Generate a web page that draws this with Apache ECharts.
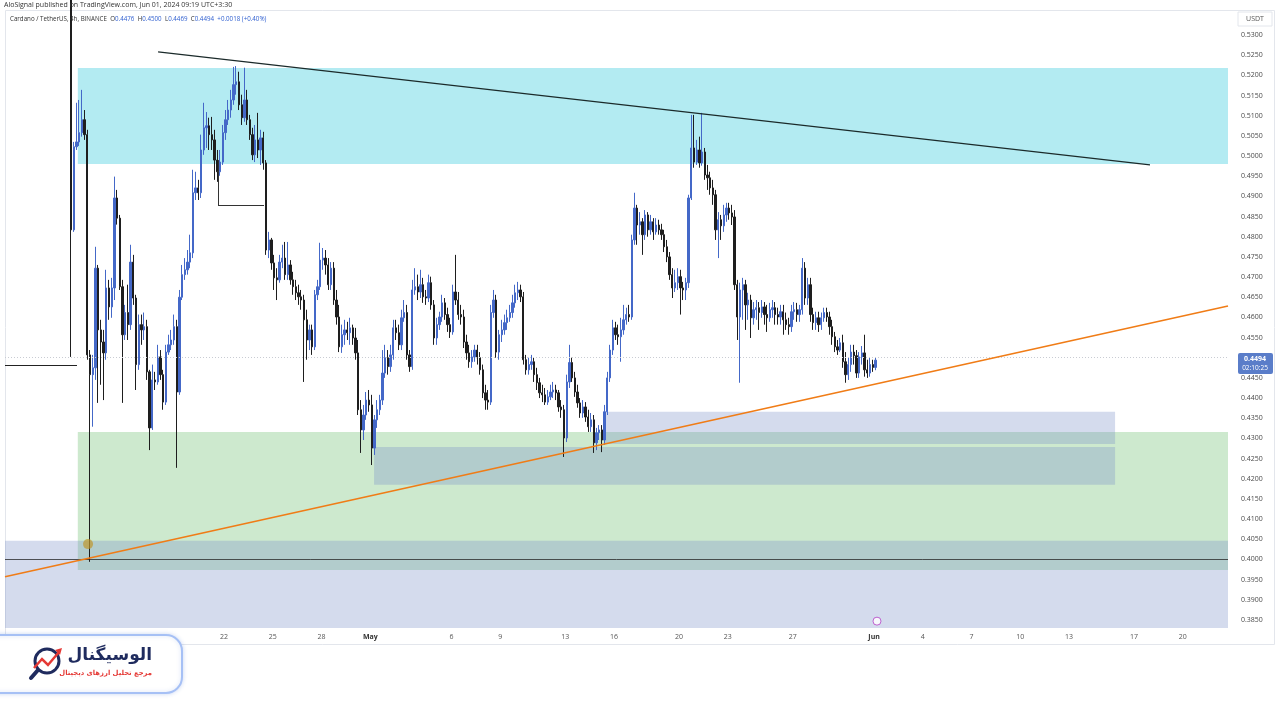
<!DOCTYPE html>
<html>
<head>
<meta charset="utf-8">
<title>Cardano / TetherUS 4h</title>
<script src="https://cdn.jsdelivr.net/npm/echarts@6/dist/echarts.min.js"></script>
<style>
  html, body { margin: 0; padding: 0; background: #fff; }
  #chart { width: 1280px; height: 720px; }
</style>
</head>
<body>
<div id="chart"></div>
<script>
// x axis unit: days since Apr 1 00:00. 4h candles, first one opens Apr 12 12:00
var firstCandleDay = 11.5;
var candleDays = 4 / 24;

// [open, close, low, high]
var candles = [
  [0.5390,0.4817,0.4502,0.5400],[0.4817,0.5023,0.4812,0.5035],[0.5023,0.5035,0.5015,0.5132],[0.5035,0.5058,0.5025,0.5139],
  [0.5058,0.5090,0.5048,0.5164],[0.5090,0.5053,0.5040,0.5114],[0.5053,0.4507,0.4495,0.5065],[0.4507,0.4458,0.3994,0.4519],
  [0.4458,0.4475,0.4329,0.4507],[0.4475,0.4722,0.4445,0.4775],[0.4722,0.4569,0.4388,0.4730],[0.4569,0.4539,0.4433,0.4594],
  [0.4539,0.4512,0.4395,0.4569],[0.4512,0.4673,0.4495,0.4718],[0.4673,0.4626,0.4594,0.4693],[0.4626,0.4673,0.4599,0.4698],
  [0.4673,0.4896,0.4643,0.4949],[0.4896,0.4846,0.4830,0.4916],[0.4846,0.4676,0.4668,0.4854],[0.4676,0.4557,0.4388,0.4693],
  [0.4557,0.4612,0.4544,0.4631],[0.4612,0.4582,0.4544,0.4681],[0.4582,0.4737,0.4569,0.4780],[0.4737,0.4648,0.4631,0.4755],
  [0.4648,0.4483,0.4420,0.4656],[0.4483,0.4582,0.4470,0.4607],[0.4582,0.4569,0.4532,0.4607],[0.4569,0.4577,0.4544,0.4612],
  [0.4577,0.4465,0.4445,0.4594],[0.4465,0.4326,0.4271,0.4470],[0.4326,0.4445,0.4321,0.4483],[0.4445,0.4440,0.4420,0.4465],
  [0.4440,0.4502,0.4433,0.4532],[0.4502,0.4458,0.4445,0.4519],[0.4458,0.4390,0.4371,0.4470],[0.4390,0.4514,0.4383,0.4532],
  [0.4514,0.4532,0.4507,0.4557],[0.4532,0.4544,0.4519,0.4569],[0.4544,0.4577,0.4532,0.4607],[0.4577,0.4415,0.4227,0.4594],
  [0.4415,0.4650,0.4408,0.4668],[0.4650,0.4706,0.4643,0.4730],[0.4706,0.4718,0.4693,0.4747],[0.4718,0.4737,0.4706,0.4767],
  [0.4737,0.4760,0.4722,0.4805],[0.4760,0.4909,0.4747,0.4966],[0.4909,0.4921,0.4891,0.4961],[0.4921,0.4909,0.4891,0.4941],
  [0.4909,0.5015,0.4896,0.5053],[0.5015,0.5070,0.5003,0.5132],[0.5070,0.5075,0.5020,0.5109],[0.5075,0.5053,0.5015,0.5095],
  [0.5053,0.5040,0.5015,0.5097],[0.5040,0.4990,0.4941,0.5065],[0.4990,0.4961,0.4936,0.5015],[0.4961,0.4985,0.4951,0.5015],
  [0.4985,0.5058,0.4978,0.5077],[0.5058,0.5090,0.5040,0.5114],[0.5090,0.5114,0.5077,0.5139],[0.5114,0.5139,0.5095,0.5164],
  [0.5139,0.5177,0.5127,0.5221],[0.5177,0.5184,0.5152,0.5223],[0.5184,0.5127,0.5114,0.5209],[0.5127,0.5095,0.5077,0.5152],
  [0.5095,0.5139,0.5085,0.5219],[0.5139,0.5090,0.5077,0.5164],[0.5090,0.5053,0.5040,0.5102],[0.5053,0.5003,0.4990,0.5070],
  [0.5003,0.5040,0.4985,0.5077],[0.5040,0.5015,0.4995,0.5107],[0.5015,0.5045,0.4978,0.5065],[0.5045,0.4983,0.4966,0.5060],
  [0.4983,0.4767,0.4755,0.4990],[0.4767,0.4792,0.4747,0.4812],[0.4792,0.4735,0.4718,0.4797],[0.4735,0.4698,0.4668,0.4755],
  [0.4698,0.4693,0.4643,0.4722],[0.4693,0.4737,0.4686,0.4755],[0.4737,0.4747,0.4722,0.4780],[0.4747,0.4706,0.4693,0.4787],
  [0.4706,0.4730,0.4693,0.4787],[0.4730,0.4693,0.4681,0.4742],[0.4693,0.4676,0.4656,0.4713],[0.4676,0.4661,0.4643,0.4693],
  [0.4661,0.4651,0.4631,0.4681],[0.4651,0.4643,0.4619,0.4668],[0.4643,0.4594,0.4440,0.4656],[0.4594,0.4544,0.4495,0.4619],
  [0.4544,0.4569,0.4519,0.4582],[0.4569,0.4527,0.4507,0.4582],[0.4527,0.4656,0.4519,0.4668],[0.4656,0.4676,0.4643,0.4693],
  [0.4676,0.4742,0.4668,0.4785],[0.4742,0.4747,0.4718,0.4772],[0.4747,0.4730,0.4706,0.4767],[0.4730,0.4681,0.4668,0.4747],
  [0.4681,0.4722,0.4668,0.4737],[0.4722,0.4643,0.4631,0.4737],[0.4643,0.4601,0.4582,0.4668],[0.4601,0.4527,0.4514,0.4631],
  [0.4527,0.4557,0.4512,0.4582],[0.4557,0.4569,0.4532,0.4594],[0.4569,0.4562,0.4544,0.4589],[0.4562,0.4574,0.4532,0.4599],
  [0.4574,0.4549,0.4532,0.4582],[0.4549,0.4512,0.4495,0.4574],[0.4512,0.4371,0.4358,0.4544],[0.4371,0.4321,0.4264,0.4395],
  [0.4321,0.4358,0.4296,0.4383],[0.4358,0.4395,0.4346,0.4415],[0.4395,0.4383,0.4366,0.4420],[0.4383,0.4276,0.4234,0.4408],
  [0.4276,0.4346,0.4259,0.4358],[0.4346,0.4371,0.4326,0.4395],[0.4371,0.4395,0.4358,0.4408],[0.4395,0.4462,0.4383,0.4519],
  [0.4462,0.4500,0.4450,0.4532],[0.4500,0.4478,0.4458,0.4519],[0.4478,0.4507,0.4465,0.4532],[0.4507,0.4574,0.4495,0.4594],
  [0.4574,0.4562,0.4544,0.4594],[0.4562,0.4532,0.4519,0.4582],[0.4532,0.4599,0.4519,0.4619],[0.4599,0.4612,0.4589,0.4643],
  [0.4612,0.4507,0.4495,0.4631],[0.4507,0.4478,0.4465,0.4519],[0.4478,0.4668,0.4470,0.4693],[0.4668,0.4676,0.4656,0.4722],
  [0.4676,0.4663,0.4643,0.4706],[0.4663,0.4681,0.4648,0.4718],[0.4681,0.4651,0.4636,0.4698],[0.4651,0.4648,0.4631,0.4668],
  [0.4648,0.4686,0.4638,0.4706],[0.4686,0.4631,0.4619,0.4701],[0.4631,0.4549,0.4532,0.4643],[0.4549,0.4582,0.4532,0.4599],
  [0.4582,0.4601,0.4569,0.4614],[0.4601,0.4636,0.4589,0.4656],[0.4636,0.4607,0.4594,0.4648],[0.4607,0.4582,0.4564,0.4624],
  [0.4582,0.4564,0.4549,0.4599],[0.4564,0.4663,0.4557,0.4681],[0.4663,0.4643,0.4631,0.4755],[0.4643,0.4607,0.4594,0.4663],
  [0.4607,0.4601,0.4582,0.4631],[0.4601,0.4539,0.4524,0.4619],[0.4539,0.4512,0.4495,0.4557],[0.4512,0.4490,0.4475,0.4532],
  [0.4490,0.4502,0.4475,0.4519],[0.4502,0.4519,0.4490,0.4532],[0.4519,0.4500,0.4483,0.4532],[0.4500,0.4470,0.4458,0.4514],
  [0.4470,0.4413,0.4400,0.4483],[0.4413,0.4395,0.4371,0.4433],[0.4395,0.4390,0.4371,0.4420],[0.4390,0.4612,0.4383,0.4631],
  [0.4612,0.4643,0.4599,0.4668],[0.4643,0.4514,0.4500,0.4656],[0.4514,0.4557,0.4495,0.4569],[0.4557,0.4569,0.4539,0.4594],
  [0.4569,0.4587,0.4557,0.4607],[0.4587,0.4599,0.4569,0.4619],[0.4599,0.4612,0.4589,0.4631],[0.4612,0.4636,0.4599,0.4656],
  [0.4636,0.4661,0.4624,0.4681],[0.4661,0.4668,0.4643,0.4688],[0.4668,0.4651,0.4638,0.4681],[0.4651,0.4495,0.4483,0.4663],
  [0.4495,0.4470,0.4458,0.4507],[0.4470,0.4483,0.4458,0.4500],[0.4483,0.4490,0.4470,0.4507],[0.4490,0.4458,0.4440,0.4500],
  [0.4458,0.4438,0.4420,0.4475],[0.4438,0.4413,0.4400,0.4450],[0.4413,0.4408,0.4390,0.4433],[0.4408,0.4390,0.4383,0.4425],
  [0.4390,0.4403,0.4383,0.4420],[0.4403,0.4415,0.4395,0.4433],[0.4415,0.4420,0.4400,0.4440],[0.4420,0.4413,0.4395,0.4433],
  [0.4413,0.4378,0.4366,0.4420],[0.4378,0.4371,0.4351,0.4395],[0.4371,0.4301,0.4254,0.4383],[0.4301,0.4440,0.4291,0.4458],
  [0.4440,0.4488,0.4425,0.4532],[0.4488,0.4450,0.4440,0.4500],[0.4450,0.4415,0.4403,0.4465],[0.4415,0.4388,0.4376,0.4433],
  [0.4388,0.4363,0.4351,0.4400],[0.4363,0.4378,0.4351,0.4395],[0.4378,0.4353,0.4341,0.4390],[0.4353,0.4329,0.4316,0.4371],
  [0.4329,0.4346,0.4316,0.4363],[0.4346,0.4289,0.4264,0.4358],[0.4289,0.4314,0.4271,0.4326],[0.4314,0.4321,0.4296,0.4333],
  [0.4321,0.4296,0.4266,0.4333],[0.4296,0.4366,0.4284,0.4383],[0.4366,0.4450,0.4358,0.4465],[0.4450,0.4519,0.4440,0.4532],
  [0.4519,0.4574,0.4507,0.4594],[0.4574,0.4557,0.4544,0.4589],[0.4557,0.4552,0.4532,0.4582],[0.4552,0.4569,0.4490,0.4599],
  [0.4569,0.4594,0.4557,0.4631],[0.4594,0.4607,0.4582,0.4624],[0.4607,0.4601,0.4589,0.4631],[0.4601,0.4792,0.4594,0.4805],
  [0.4792,0.4871,0.4780,0.4909],[0.4871,0.4829,0.4780,0.4879],[0.4829,0.4837,0.4805,0.4861],[0.4837,0.4805,0.4755,0.4846],
  [0.4805,0.4854,0.4792,0.4866],[0.4854,0.4817,0.4800,0.4861],[0.4817,0.4837,0.4805,0.4854],[0.4837,0.4812,0.4792,0.4846],
  [0.4812,0.4829,0.4805,0.4846],[0.4829,0.4817,0.4805,0.4842],[0.4817,0.4805,0.4792,0.4832],[0.4805,0.4775,0.4762,0.4817],
  [0.4775,0.4750,0.4737,0.4792],[0.4750,0.4706,0.4693,0.4762],[0.4706,0.4673,0.4648,0.4722],[0.4673,0.4686,0.4663,0.4718],
  [0.4686,0.4701,0.4668,0.4722],[0.4701,0.4673,0.4607,0.4718],[0.4673,0.4668,0.4643,0.4688],[0.4668,0.4686,0.4643,0.4698],
  [0.4686,0.4896,0.4673,0.4904],[0.4896,0.5020,0.4891,0.5102],[0.5020,0.4985,0.4971,0.5102],[0.4985,0.5015,0.4978,0.5040],
  [0.5015,0.4983,0.4971,0.5048],[0.4983,0.5010,0.4976,0.5107],[0.5010,0.4953,0.4941,0.5020],[0.4953,0.4946,0.4916,0.4978],
  [0.4946,0.4921,0.4904,0.4961],[0.4921,0.4904,0.4879,0.4941],[0.4904,0.4817,0.4792,0.4916],[0.4817,0.4842,0.4747,0.4861],
  [0.4842,0.4827,0.4792,0.4854],[0.4827,0.4854,0.4812,0.4879],[0.4854,0.4871,0.4837,0.4884],[0.4871,0.4859,0.4842,0.4884],
  [0.4859,0.4849,0.4829,0.4879],[0.4849,0.4681,0.4668,0.4866],[0.4681,0.4601,0.4544,0.4693],[0.4601,0.4668,0.4438,0.4686],
  [0.4668,0.4681,0.4594,0.4698],[0.4681,0.4631,0.4569,0.4693],[0.4631,0.4643,0.4594,0.4661],[0.4643,0.4599,0.4549,0.4656],
  [0.4599,0.4619,0.4582,0.4638],[0.4619,0.4624,0.4594,0.4643],[0.4624,0.4612,0.4569,0.4638],[0.4612,0.4626,0.4599,0.4643],
  [0.4626,0.4607,0.4582,0.4638],[0.4607,0.4599,0.4564,0.4631],[0.4599,0.4619,0.4589,0.4636],[0.4619,0.4624,0.4599,0.4643],
  [0.4624,0.4607,0.4582,0.4638],[0.4607,0.4601,0.4582,0.4624],[0.4601,0.4614,0.4582,0.4631],[0.4614,0.4594,0.4557,0.4631],
  [0.4594,0.4582,0.4569,0.4612],[0.4582,0.4577,0.4557,0.4599],[0.4577,0.4614,0.4564,0.4631],[0.4614,0.4619,0.4594,0.4638],
  [0.4619,0.4607,0.4589,0.4636],[0.4607,0.4619,0.4589,0.4631],[0.4619,0.4722,0.4607,0.4747],[0.4722,0.4648,0.4631,0.4737],
  [0.4648,0.4681,0.4631,0.4698],[0.4681,0.4607,0.4589,0.4698],[0.4607,0.4587,0.4569,0.4624],[0.4587,0.4599,0.4569,0.4614],
  [0.4599,0.4582,0.4564,0.4614],[0.4582,0.4599,0.4569,0.4612],[0.4599,0.4612,0.4589,0.4624],[0.4612,0.4601,0.4589,0.4624],
  [0.4601,0.4577,0.4557,0.4614],[0.4577,0.4552,0.4532,0.4594],[0.4552,0.4527,0.4514,0.4564],[0.4527,0.4519,0.4507,0.4544],
  [0.4519,0.4537,0.4514,0.4549],[0.4537,0.4490,0.4475,0.4557],[0.4490,0.4458,0.4438,0.4514],[0.4458,0.4483,0.4445,0.4500],
  [0.4483,0.4514,0.4465,0.4532],[0.4514,0.4505,0.4483,0.4532],[0.4505,0.4462,0.4450,0.4519],[0.4462,0.4502,0.4450,0.4514],
  [0.4502,0.4512,0.4483,0.4529],[0.4512,0.4470,0.4453,0.4557],[0.4470,0.4462,0.4450,0.4495],[0.4462,0.4483,0.4453,0.4500],
  [0.4483,0.4476,0.4465,0.4495],[0.4476,0.4494,0.4469,0.4500]
];
var lastPrice = 0.4494;

// bottom axis: day value -> label
var tickDays = [21, 24, 27, 30, 35, 38, 42, 45, 49, 52, 56, 61, 64, 67, 70, 73, 77, 80];
var tickLabels = ['22', '25', '28', 'May', '6', '9', '13', '16', '20', '23', '27', 'Jun', '4', '7', '10', '13', '17', '20'];
var priceTicks = [0.385, 0.39, 0.395, 0.40, 0.405, 0.41, 0.415, 0.42, 0.425, 0.43, 0.435, 0.44, 0.445, 0.45, 0.455,
  0.46, 0.465, 0.47, 0.475, 0.48, 0.485, 0.49, 0.495, 0.50, 0.505, 0.51, 0.515, 0.52, 0.525, 0.53];

// drawings: zones [dayFrom, priceA, dayTo, priceB], lines [[day, price], [day, price]]
var supplyZone = [12.0, 0.5218, 82.78, 0.4980];
var demandZone = [12.0, 0.4316, 82.78, 0.3974];
var lowerBox = [7.52, 0.4046, 82.78, 0.3830];
var boxMayA = [44.38, 0.4366, 75.83, 0.4286];
var boxMayB = [30.23, 0.4279, 75.83, 0.4185];
var topTrend = [[16.94, 0.5258], [77.98, 0.4978]];
var bottomTrend = [[7.52, 0.3957], [82.78, 0.4628]];
var bracket = [[20.63, 0.4990], [20.63, 0.4877], [23.46, 0.4877]];
var leftLevel = [[7.52, 0.4481], [11.95, 0.4481]];
var keyLevel = 0.4003;
var crashMark = [12.63, 0.4038];
var eventMark = [61.18, 0.3847];

var chart = echarts.init(document.getElementById('chart'));

var candleData = candles.map(function (c, i) {
  return [firstCandleDay + (i + 0.5) * candleDays, c[0], c[1], c[2], c[3]];
});

function zone(z, color) {
  return [{ coord: [z[0], z[1]], itemStyle: { color: color } }, { coord: [z[2], z[3]] }];
}
function seg(a, b, color, width) {
  return [{ coord: a, lineStyle: { color: color, width: width, type: 'solid' } }, { coord: b }];
}

var font = 'Open Sans, Liberation Sans, sans-serif';
var blue = '#4468c8';

var option = {
  animation: false,
  backgroundColor: '#ffffff',
  grid: { left: 5, right: 52, top: 10, bottom: 92 },
  xAxis: {
    type: 'value',
    min: 7.52,
    max: 82.78,
    axisLine: { show: false },
    axisTick: { show: false },
    splitLine: { show: false },
    axisLabel: {
      customValues: tickDays,
      margin: 5,
      fontSize: 7,
      fontFamily: font,
      color: '#555',
      formatter: function (v) {
        var i = tickDays.indexOf(Math.round(v));
        if (i < 0) return '';
        var t = tickLabels[i];
        return /[A-Za-z]/.test(t) ? '{m|' + t + '}' : t;
      },
      rich: { m: { fontSize: 7, fontWeight: 'bold', color: '#333', fontFamily: font } }
    }
  },
  yAxis: {
    type: 'value',
    position: 'right',
    min: 0.3830,
    max: 0.5362,
    axisLine: { show: false },
    axisTick: { show: false },
    splitLine: { show: false },
    axisLabel: {
      customValues: priceTicks,
      margin: 13,
      fontSize: 7,
      fontFamily: font,
      color: '#4a4a4a',
      formatter: function (v) { return v.toFixed(4); }
    }
  },
  series: [
    {
      type: 'candlestick',
      encode: { x: 0, y: [1, 2, 3, 4] },
      data: candleData,
      barWidth: 1.8,
      clip: true,
      itemStyle: {
        color: blue, color0: '#1e1e1e',
        borderColor: blue, borderColor0: '#1e1e1e',
        borderWidth: 1
      },
      markArea: {
        silent: true,
        data: [
          zone(supplyZone, '#b3ebf2'),
          zone(demandZone, 'rgba(76,175,80,0.28)'),
          zone(lowerBox, 'rgba(120,144,200,0.32)'),
          zone(boxMayA, 'rgba(120,144,200,0.32)'),
          zone(boxMayB, 'rgba(120,144,200,0.32)')
        ]
      },
      markLine: {
        silent: true,
        symbol: ['none', 'none'],
        label: { show: false },
        data: [
          { yAxis: lastPrice, lineStyle: { color: '#c9ccd3', width: 1, type: [1, 2] } },
          { yAxis: keyLevel, lineStyle: { color: '#2b2b2b', width: 0.8, type: 'solid' } },
          seg(topTrend[0], topTrend[1], '#1b2a2a', 1.2),
          seg(bottomTrend[0], bottomTrend[1], '#f07c16', 1.6),
          seg(bracket[0], bracket[1], '#333', 1),
          seg(bracket[1], bracket[2], '#333', 1),
          seg(leftLevel[0], leftLevel[1], '#222', 1)
        ]
      }
    },
    {
      type: 'scatter',
      silent: true,
      z: 5,
      data: [
        { value: crashMark, symbolSize: 10, itemStyle: { color: 'rgba(190,150,40,0.85)' } },
        { value: eventMark, symbolSize: 8, itemStyle: { color: '#fff', borderColor: '#b13fc4', borderWidth: 1 } }
      ]
    }
  ],
  graphic: [
    { type: 'rect', silent: true, z: 1, shape: { x: 5.5, y: 10.5, width: 1269, height: 634 },
      style: { fill: 'none', stroke: '#e3e6ec', lineWidth: 1 } },
    { type: 'text', left: 4, top: 1, z: 100,
      style: { text: 'AloSignal published on TradingView.com, Jun 01, 2024 09:19 UTC+3:30', fontSize: 7, fontFamily: font, fill: '#333' } },
    { type: 'text', left: 10, top: 13, z: 100,
      style: {
        text: '{n|Cardano / TetherUS, 4h, BINANCE} {n|O}{v|0.4476} {n|H}{v|0.4500} {n|L}{v|0.4469} {n|C}{v|0.4494} {v|+0.0018 (+0.40%)}',
        rich: {
          n: { fontSize: 6.2, fontFamily: font, fill: '#333' },
          v: { fontSize: 6.2, fontFamily: font, fill: '#2f5fd0' }
        }
      } },
    { type: 'rect', z: 100, shape: { x: 1238, y: 12, width: 34, height: 14 },
      style: { fill: '#fff', stroke: '#e3e6ec', lineWidth: 1 } },
    { type: 'text', z: 101, x: 1255, y: 19,
      style: { text: 'USDT', fontSize: 7, fontFamily: font, fill: '#555', align: 'center', verticalAlign: 'middle' } },
    { type: 'rect', z: 100, shape: { x: 1238, y: 353, width: 35, height: 21, r: 2 }, style: { fill: '#5a7dc9' } },
    { type: 'text', z: 101, x: 1255, y: 358.5,
      style: { text: '0.4494', fontSize: 7, fontWeight: 'bold', fontFamily: font, fill: '#fff', align: 'center', verticalAlign: 'middle' } },
    { type: 'text', z: 101, x: 1255, y: 368.5,
      style: { text: '02:10:25', fontSize: 6.5, fontFamily: font, fill: '#fff', align: 'center', verticalAlign: 'middle' } },
    // logo panel
    { type: 'rect', z: 100, shape: { x: -20, y: 635, width: 202, height: 58, r: 16 },
      style: { fill: '#fff', stroke: '#a6c0f5', lineWidth: 2, shadowBlur: 4, shadowColor: 'rgba(90,130,220,0.25)' } },
    { type: 'circle', z: 101, shape: { cx: 47, cy: 661, r: 12 },
      style: { fill: '#fff', stroke: '#1f2b5e', lineWidth: 3 } },
    { type: 'line', z: 101, shape: { x1: 38, y1: 670, x2: 31, y2: 678 },
      style: { stroke: '#1f2b5e', lineWidth: 4, lineCap: 'round' } },
    { type: 'polyline', z: 102, shape: { points: [[34, 668], [42, 659], [48, 665], [59, 652]] },
      style: { stroke: '#e53935', lineWidth: 2.5, fill: 'none' } },
    { type: 'polygon', z: 102, shape: { points: [[62, 648], [55, 650], [60, 655]] },
      style: { fill: '#e53935' } },
    { type: 'text', z: 101, x: 152, y: 656,
      style: { text: 'الوسیگنال', fontSize: 17, fontWeight: 'bold', fontFamily: 'DejaVu Sans, sans-serif',
        fill: '#1f2b5e', align: 'right', verticalAlign: 'middle' } },
    { type: 'text', z: 101, x: 152, y: 673,
      style: { text: 'مرجع تحلیل ارزهای دیجیتال', fontSize: 6.8, fontWeight: 'bold', fontFamily: 'DejaVu Sans, sans-serif',
        fill: '#e53935', align: 'right', verticalAlign: 'middle' } }
  ]
};

chart.setOption(option);
window.addEventListener('resize', function () { chart.resize(); });
</script>
</body>
</html>
